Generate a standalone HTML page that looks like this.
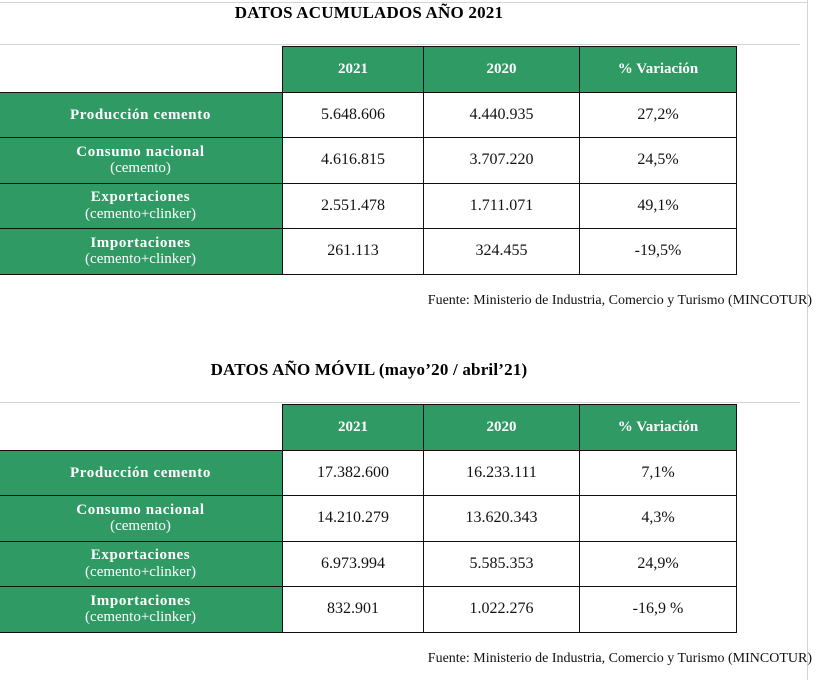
<!DOCTYPE html>
<html><head><meta charset="utf-8"><style>
body{margin:0;width:818px;height:680px;background:#fff;position:relative;overflow:hidden;font-family:"Liberation Serif",serif}
.a{position:absolute}
.t{font-weight:bold;font-size:17px;color:#000;text-align:center;width:818px;left:-40px;letter-spacing:0.2px}
.c{position:absolute;box-sizing:border-box;border:1px solid #111;display:flex;flex-direction:column;align-items:center;justify-content:center;text-align:center;line-height:1.1}
.g{background:#2f9a63;color:#fff}
.h{font-weight:bold;font-size:15px}
.l{font-weight:bold;font-size:15px;letter-spacing:0.6px}
.l span{font-weight:normal;font-size:15px;letter-spacing:0}
.v{font-size:16px;color:#111}
.f{font-size:14px;right:6px;color:#111}
.gl{position:absolute;background:#d4d4d4}
</style></head><body>
<div class="gl" style="left:0;top:2px;width:808px;height:1px"></div>
<div class="gl" style="left:807px;top:0;width:1px;height:680px"></div>
<div class="a t" style="top:3px">DATOS ACUMULADOS AÑO 2021</div>
<div id="t1"></div>
<div class="a f" style="top:293px">Fuente: Ministerio de Industria, Comercio y Turismo (MINCOTUR)</div>
<div class="a t" style="top:360px">DATOS AÑO MÓVIL (mayo’20 / abril’21)</div>
<div id="t2"></div>
<div class="a f" style="top:651px">Fuente: Ministerio de Industria, Comercio y Turismo (MINCOTUR)</div>
<script>
const headers=["2021","2020","% Variación"];
const labels=[["Producción cemento",""],["Consumo nacional","(cemento)"],["Exportaciones","(cemento+clinker)"],["Importaciones","(cemento+clinker)"]];
const vals1=[["5.648.606","4.440.935","27,2%"],["4.616.815","3.707.220","24,5%"],["2.551.478","1.711.071","49,1%"],["261.113","324.455","-19,5%"]];
const vals2=[["17.382.600","16.233.111","7,1%"],["14.210.279","13.620.343","4,3%"],["6.973.994","5.585.353","24,9%"],["832.901","1.022.276","-16,9 %"]];
const xs=[-2,282,423,579,736];
function build(id,top,vals){
  const root=document.getElementById(id);
  const rh=45.5;
  const gl=document.createElement('div');gl.className='gl';
  gl.style.cssText=`left:0;top:${top-2}px;width:800px;height:1px`;
  
  
  root.appendChild(gl);
  headers.forEach((h,i)=>{
    const d=document.createElement('div');d.className='c g h';
    d.style.cssText=`left:${xs[i+1]}px;top:${top}px;width:${xs[i+2]-xs[i+1]+1}px;height:${rh+1}px`;
    d.textContent=h;
    
    
    root.appendChild(d);
  });
  labels.forEach((lb,r)=>{
    const y=top+rh*(r+1);
    const d=document.createElement('div');d.className='c g l';
    d.style.cssText=`left:${xs[0]}px;top:${y}px;width:${xs[1]-xs[0]+1}px;height:${rh+1}px`;
    d.innerHTML=lb[0]+(lb[1]?'<span>'+lb[1]+'</span>':'');
    
    
    root.appendChild(d);
    vals[r].forEach((v,i)=>{
      const c=document.createElement('div');c.className='c v';
      c.style.cssText=`left:${xs[i+1]}px;top:${y}px;width:${xs[i+2]-xs[i+1]+1}px;height:${rh+1}px`;
      c.textContent=v;
      
      
      root.appendChild(c);
    });
  });
}
build('t1',46,vals1);
build('t2',404,vals2);
</script>
</body></html>
